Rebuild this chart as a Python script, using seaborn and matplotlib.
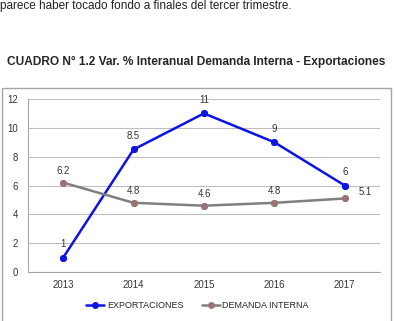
import pandas as pd
import matplotlib.pyplot as plt
import matplotlib.patches as mpatches
import seaborn as sns

years = ['2013', '2014', '2015', '2016', '2017']
exportaciones = [1, 8.5, 11, 9, 6]
demanda_interna = [6.2, 4.8, 4.6, 4.8, 5.1]

sns.set_style('white')
plt.rcParams['font.family'] = ['Liberation Sans', 'DejaVu Sans']

df = pd.DataFrame({
    'year': years * 2,
    'value': exportaciones + demanda_interna,
    'serie': ['EXPORTACIONES'] * 5 + ['DEMANDA INTERNA'] * 5,
})

fig = plt.figure(figsize=(3.95, 3.21), dpi=100)

# texto del documento y recuadro del grafico
fig.text(0.0, 0.982, 'parece haber tocado fondo a finales del tercer trimestre.',
         fontsize=8.5, ha='left', va='center', color='#222222')
fig.text(0.497, 0.807, 'CUADRO N° 1.2 Var. % Interanual Demanda Interna - Exportaciones',
         fontsize=8.55, fontweight='bold', ha='center', va='center')
fig.patches.append(mpatches.Rectangle((0.005, -0.05), 0.985, 0.776, transform=fig.transFigure,
                                      fill=False, edgecolor='#a6a6a6', linewidth=1.0))

ax = fig.add_axes([0.0709, 0.1526, 0.891, 0.539])
sns.lineplot(data=df, x='year', y='value', hue='serie', ax=ax,
             palette={'EXPORTACIONES': '#0a14e6', 'DEMANDA INTERNA': '#7f7f7f'},
             linewidth=1.8, marker='o', markersize=5, markeredgewidth=0, legend=False)
# marcadores de demanda interna en tono rosado
ax.plot(range(len(years)), demanda_interna, 'o', color='#9c7173', markersize=5,
        markeredgewidth=0, zorder=4)
ax.plot(range(len(years)), exportaciones, 'o', color='#0a14e6', markersize=5,
        markeredgewidth=0, zorder=4)

lab = dict(fontsize=6.9, color='#333333')
for i, v in enumerate(exportaciones):
    ax.annotate(f'{v:g}', (i, v), xytext=(0, 6), textcoords='offset points',
                ha='center', va='bottom', **lab)
for i, v in enumerate(demanda_interna):
    if i == len(years) - 1:
        ax.annotate(f'{v:g}', (i, v), xytext=(10, 1), textcoords='offset points',
                    ha='left', va='bottom', **lab)
    else:
        ax.annotate(f'{v:g}', (i, v), xytext=(0, 5), textcoords='offset points',
                    ha='center', va='bottom', **lab)

ax.set_xlim(-0.5, 4.5)
ax.set_ylim(0, 12)
ax.set_yticks(range(0, 13, 2))
ax.set_xticks(range(len(years)))
ax.set_xticklabels(years)
ax.set_xticks([x - 0.5 for x in range(len(years) + 1)], minor=True)
ax.tick_params(axis='x', which='major', length=0, labelsize=6.9, pad=6, colors='#333333')
ax.tick_params(axis='x', which='minor', length=3, color='#a6a6a6', width=0.8)
ax.tick_params(axis='y', length=3, color='#a6a6a6', width=0.8, labelsize=6.9, pad=4,
               labelcolor='#333333')
ax.set_xlabel('')
ax.set_ylabel('')
ax.grid(axis='y', color='#bfbfbf', linewidth=0.8)
ax.set_axisbelow(True)
for side in ['top', 'right']:
    ax.spines[side].set_visible(False)
for side in ['left', 'bottom']:
    ax.spines[side].set_color('#a6a6a6')
    ax.spines[side].set_linewidth(0.8)

handles = [
    plt.Line2D([], [], color='#0a14e6', linewidth=1.8, marker='o', markersize=5,
               markeredgewidth=0),
    plt.Line2D([], [], color='#7f7f7f', linewidth=1.8, marker='o', markersize=5,
               markerfacecolor='#9c7173', markeredgewidth=0),
]
fig.legend(handles, ['EXPORTACIONES', 'DEMANDA INTERNA'], loc='center',
           bbox_to_anchor=(0.5, 0.047), ncol=2, frameon=False, fontsize=6.5,
           handlelength=2.0, handletextpad=0.3, columnspacing=2.0)

fig.savefig('out.png', dpi=100)
